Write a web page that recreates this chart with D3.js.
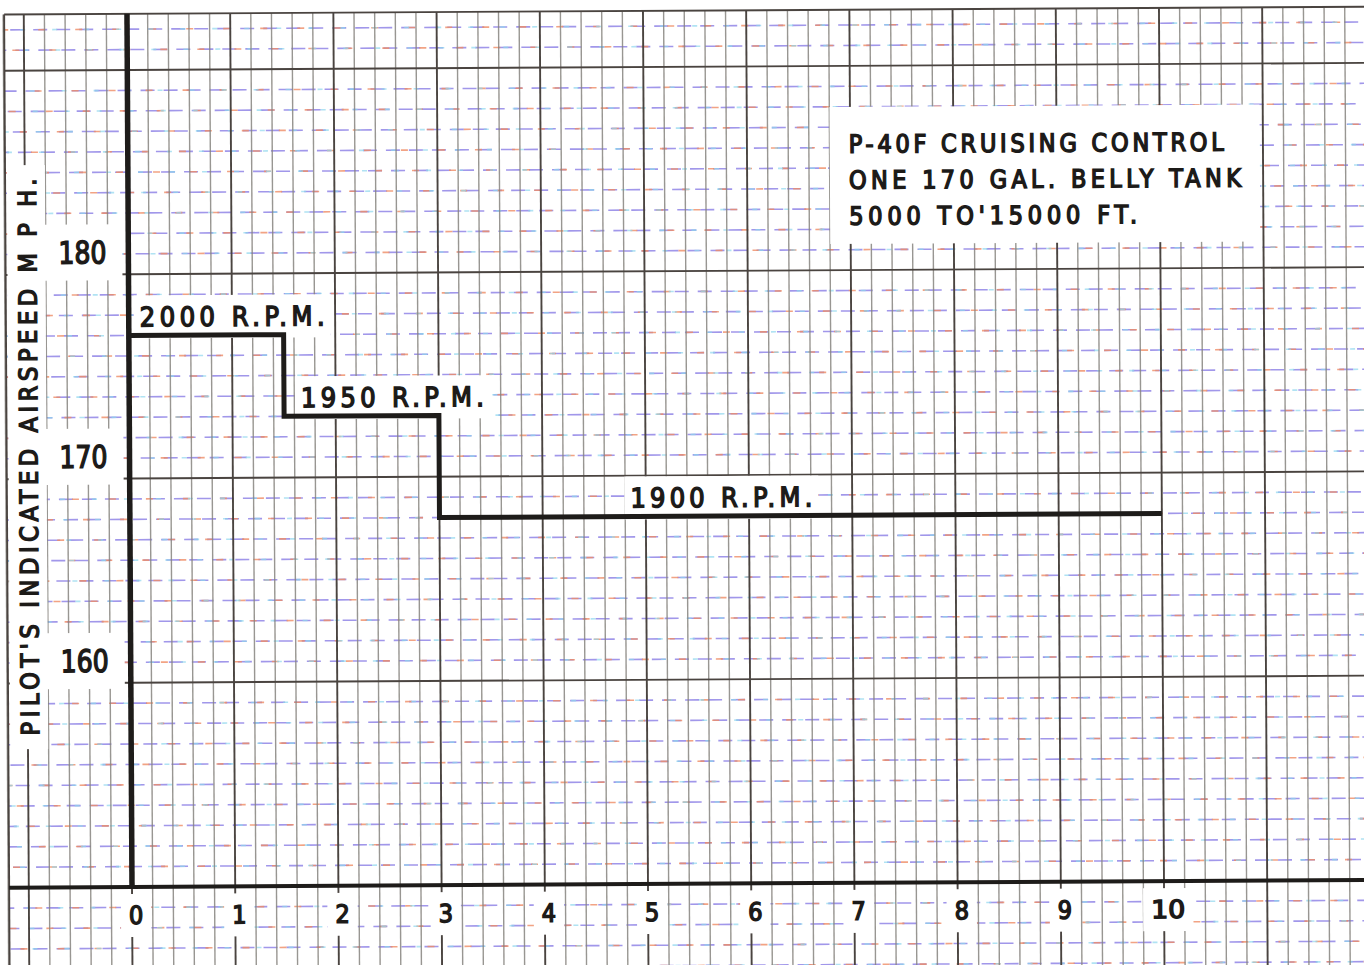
<!DOCTYPE html>
<html>
<head>
<meta charset="utf-8">
<script src="https://cdn.jsdelivr.net/npm/d3@7"></script>
<style>
  html, body { margin: 0; padding: 0; background: #fff; }
  svg text { font-family: 'DejaVu Sans Condensed', 'DejaVu Sans', sans-serif; font-weight: normal;
    fill: #1c1a18; stroke: #1c1a18; stroke-width: 1.4px; }
</style>
</head>
<body>
<svg id="chart" width="1364" height="965"></svg>
<script>
// chart values
const xTicks = [0, 1, 2, 3, 4, 5, 6, 7, 8, 9, 10];
const yTicks = [160, 170, 180];
const stepStart = [0, 1.5, 3];
const stepEnd = [1.5, 3, 10];
const airspeed = [177, 173, 168];
const rpmLabels = ['2000 R.P.M.', '1950 R.P.M.', '1900 R.P.M.'];
const titleLines = ['P-40F CRUISING CONTROL', 'ONE 170 GAL. BELLY TANK', "5000 TO'15000 FT."];
const yTitle = "PILOT'S INDICATED AIRSPEED M P H.";

const svg = d3.select('#chart');
svg.append('rect').attr('width', 1364).attr('height', 965).attr('fill', '#fff');

const x = d3.scaleLinear().domain([0, 10]).range([132, 1164]);
const y = d3.scaleLinear().domain([150, 190]).range([887, 70]);

// whole sheet is scanned slightly rotated
const g = svg.append('g').attr('transform', `rotate(-0.33, ${x(0)}, ${y(150)})`);

const paperL = x(-1.2) + 1, paperT = y(192.75);
const paperR = 1380, paperB = 985;

// graph paper grid
const grid = g.append('g');
const vLines = d3.range(-6, 62).map(d => d / 5);
const hLines = d3.range(145, 193);

grid.selectAll('.hmin').data(hLines.filter(d => d % 10 !== 0)).enter().append('g').each(function (d) {
  const gg = d3.select(this);
  const ln = () => gg.append('line').attr('x1', paperL).attr('x2', paperR).attr('y1', y(d)).attr('y2', y(d))
    .attr('stroke-width', 1.6);
  ln().attr('stroke', '#8a7ee6').attr('stroke-dasharray', '14 9').attr('stroke-dashoffset', (d * 5) % 23).attr('opacity', 0.8);
  ln().attr('stroke', '#ef8d66').attr('stroke-dasharray', '7 30').attr('stroke-dashoffset', (d * 11) % 37).attr('opacity', 0.8);
  ln().attr('stroke', '#8fd8ee').attr('stroke-dasharray', '5 27').attr('stroke-dashoffset', (d * 3) % 32 + 16).attr('opacity', 0.7);
});

grid.selectAll('.vmin').data(vLines.filter(d => Math.abs(d - Math.round(d)) > 1e-6)).enter().append('line')
  .attr('x1', d => x(d)).attr('x2', d => x(d)).attr('y1', paperT).attr('y2', paperB)
  .attr('stroke', '#87847f').attr('stroke-width', 1.4).attr('opacity', 0.85);

grid.selectAll('.hmaj').data(hLines.filter(d => d % 10 === 0)).enter().append('line')
  .attr('x1', paperL).attr('x2', paperR).attr('y1', d => y(d)).attr('y2', d => y(d))
  .attr('stroke', '#4a4440').attr('stroke-width', 1.9);

grid.selectAll('.vmaj').data(vLines.filter(d => Math.abs(d - Math.round(d)) <= 1e-6)).enter().append('line')
  .attr('x1', d => x(d)).attr('x2', d => x(d)).attr('y1', paperT).attr('y2', paperB)
  .attr('stroke', '#4a4440').attr('stroke-width', 1.9);

// paper edges
g.append('line').attr('x1', paperL).attr('x2', paperR).attr('y1', paperT).attr('y2', paperT)
  .attr('stroke', '#4a4440').attr('stroke-width', 1.9);
g.append('line').attr('x1', paperL).attr('x2', paperL).attr('y1', paperT).attr('y2', paperB)
  .attr('stroke', '#4a4440').attr('stroke-width', 1.9);

// helper: text sitting on a white patch
function patchText(parent, str, px, py, size, len, anchor, pad, adjust) {
  const grp = parent.append('g');
  const t = grp.append('text').attr('x', px).attr('y', py).attr('font-size', size)
    .attr('text-anchor', anchor || 'start').text(str);
  if (len) t.attr('textLength', len).attr('lengthAdjust', adjust || 'spacing');
  const b = t.node().getBBox();
  const p = pad || [8, 6];
  grp.insert('rect', 'text').attr('x', b.x - p[0]).attr('y', b.y - p[1])
    .attr('width', b.width + 2 * p[0]).attr('height', b.height + 2 * p[1]).attr('fill', '#fff');
  return grp;
}

// title box
const tb = g.append('g');
tb.append('rect').attr('x', 834).attr('y', 111).attr('width', 430).attr('height', 137).attr('fill', '#fff');
const titleLen = [375, 392, 288];
titleLines.forEach((s, i) => {
  tb.append('text').attr('x', 853).attr('y', 157 + i * 36).attr('font-size', 25)
    .attr('textLength', titleLen[i]).attr('lengthAdjust', 'spacing').text(s);
});

// y-axis title
const yt = g.append('g').attr('transform', `translate(40, ${(735 + 178) / 2}) rotate(-90)`);
yt.append('rect').attr('x', -292).attr('y', -29).attr('width', 584).attr('height', 38).attr('fill', '#fff');
yt.append('text').attr('x', 0).attr('y', 0).attr('font-size', 25).attr('text-anchor', 'middle')
  .attr('textLength', 557).attr('lengthAdjust', 'spacing').text(yTitle);

// y tick labels
yTicks.forEach(v => {
  patchText(g, String(v), 86, y(v) - 11, 31, 48, 'middle', [16, 10], 'spacingAndGlyphs');
});

// x tick labels
xTicks.forEach(v => {
  patchText(g, String(v), x(v) + 4, 924, 25, v === 10 ? 34 : null, 'middle', [8, 7], 'spacingAndGlyphs');
});

// rpm labels
const rpmX = [x(0) + 11, x(1.5) + 17, x(3) + 191];
const rpmLen = [185, 183, 182];
rpmLabels.forEach((s, i) => {
  patchText(g, s, rpmX[i], y(airspeed[i]) - 9, 27, rpmLen[i], 'start', [6, 6]);
});

// axes
g.append('line').attr('x1', x(0)).attr('x2', x(0)).attr('y1', paperT).attr('y2', y(150))
  .attr('stroke', '#1e1c1a').attr('stroke-width', 5.5);
g.append('line').attr('x1', paperL).attr('x2', paperR).attr('y1', y(150)).attr('y2', y(150))
  .attr('stroke', '#1e1c1a').attr('stroke-width', 4);

// step line
const pts = stepStart.map((s, i) => [s, airspeed[i]]);
pts.push([stepEnd[stepEnd.length - 1], airspeed[airspeed.length - 1]]);
const line = d3.line().x(d => x(d[0])).y(d => y(d[1])).curve(d3.curveStepAfter);
g.append('path').attr('d', line(pts)).attr('fill', 'none')
  .attr('stroke', '#1e1c1a').attr('stroke-width', 5).attr('stroke-linejoin', 'miter');
</script>
</body>
</html>
